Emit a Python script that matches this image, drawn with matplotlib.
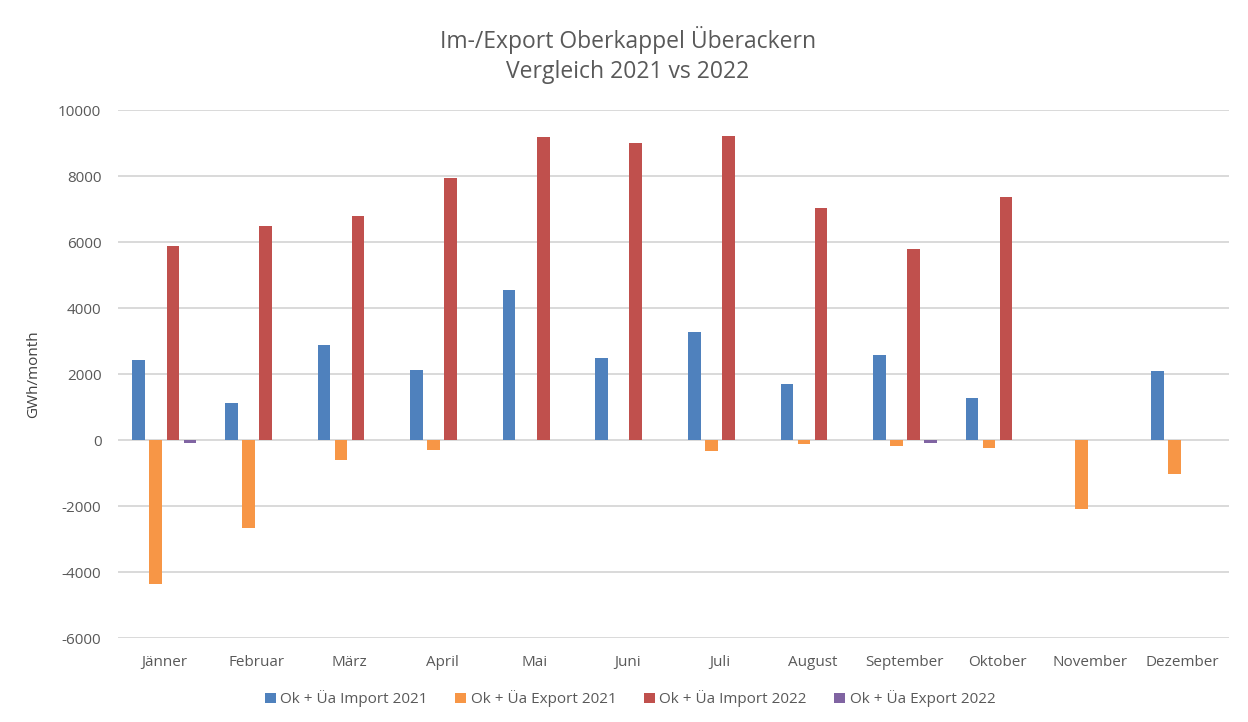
import matplotlib
matplotlib.use("Agg")
import matplotlib.pyplot as plt
import numpy as np

plt.rcParams['font.family'] = ['Open Sans', 'DejaVu Sans']
plt.rcParams['axes.unicode_minus'] = False

months = ["Jänner", "Februar", "März", "April", "Mai", "Juni", "Juli",
          "August", "September", "Oktober", "November", "Dezember"]
import_2021 = [2440, 1110, 2880, 2125, 4550, 2495, 3275, 1690, 2580, 1280, 0, 2105]
export_2021 = [-4350, -2655, -615, -310, 0, 0, -335, -110, -170, -255, -2090, -1030]
import_2022 = [5890, 6490, 6800, 7930, 9190, 8995, 9215, 7030, 5775, 7355, 0, 0]
export_2022 = [-80, 0, 0, 0, 0, 0, 0, 0, -80, 0, 0, 0]

series = [
    ("Ok + Üa Import 2021", import_2021, "#4F81BD"),
    ("Ok + Üa Export 2021", export_2021, "#F79646"),
    ("Ok + Üa Import 2022", import_2022, "#C0504D"),
    ("Ok + Üa Export 2022", export_2022, "#8064A2"),
]

fig = plt.figure(figsize=(12.48, 7.22), dpi=100)
ax = fig.add_axes([0.0946, 0.1163, 0.8902, 0.7313])

x = np.arange(len(months))
step = 0.184
width = 0.137
for i, (name, vals, col) in enumerate(series):
    ax.bar(x + (i - 1.5) * step, vals, width, color=col, label=name,
           linewidth=0, zorder=3)

ax.set_xlim(-0.5, len(months) - 0.5)
ax.set_ylim(-6000, 10000)
ax.set_yticks(np.arange(-6000, 10001, 2000))
ax.set_xticks(x)
ax.set_xticklabels(months)
ax.grid(axis='y', color="#D9D9D9", linewidth=1.4, zorder=0)
ax.set_axisbelow(True)
for s in ax.spines.values():
    s.set_visible(False)
ax.tick_params(axis='both', length=0, labelsize=11, colors="#595959")
ax.tick_params(axis='x', pad=12)
ax.tick_params(axis='y', pad=12)
ax.set_ylabel("GWh/month", fontsize=11, color="#404040", labelpad=12)

fig.text(0.503, 0.945, "Im-/Export Oberkappel Überackern", ha='center', va='center',
         fontsize=16.5, color="#595959")
fig.text(0.503, 0.900, "Vergleich 2021 vs 2022", ha='center', va='center',
         fontsize=16.5, color="#595959")

fig.legend(loc='center', bbox_to_anchor=(0.505, 0.032), ncol=4, frameon=False,
           fontsize=11, labelcolor="#595959", handlelength=0.7, handleheight=0.7,
           handletextpad=0.3, columnspacing=1.8)

fig.savefig("out.png", dpi=100)
